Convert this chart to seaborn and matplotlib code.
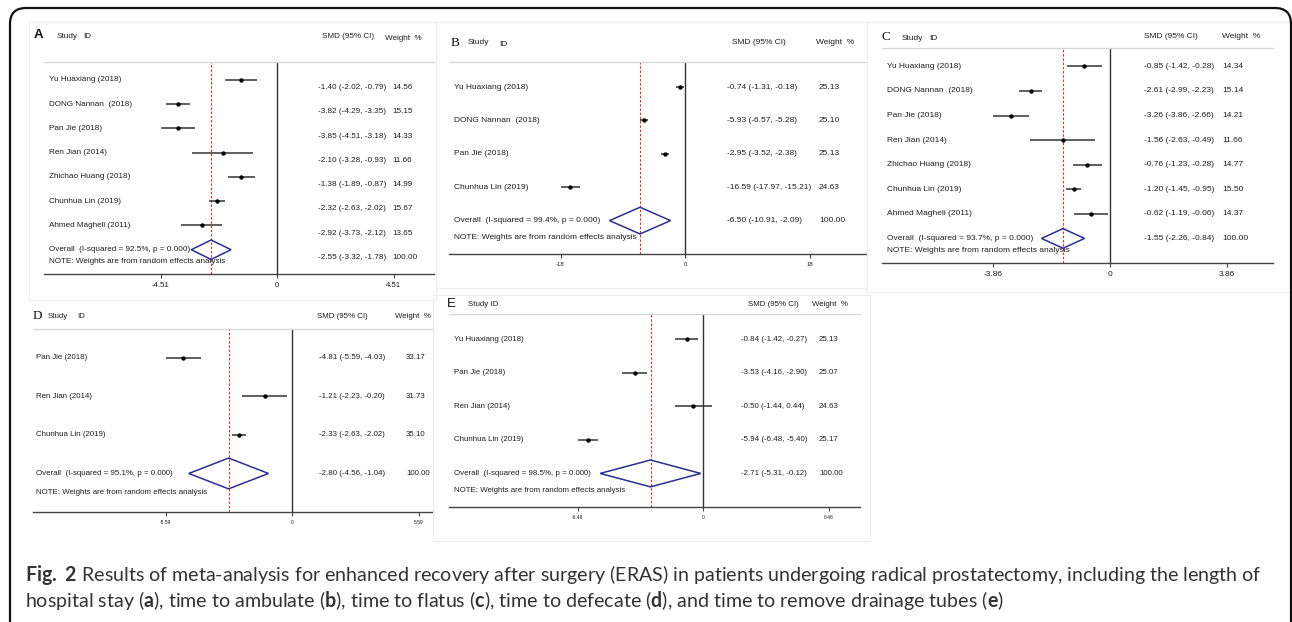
import matplotlib
matplotlib.use("Agg")
import matplotlib.pyplot as plt
from matplotlib.patches import Polygon, FancyBboxPatch, Rectangle
from matplotlib.transforms import IdentityTransform
import numpy as np
import seaborn as sns

# ---------------- data ----------------
studies_A = ["Yu Huaxiang (2018)", "DONG Nannan  (2018)", "Pan Jie (2018)", "Ren Jian (2014)",
             "Zhichao Huang (2018)", "Chunhua Lin (2019)", "Ahmed Magheli (2011)"]
smd_A = [-1.40, -3.82, -3.85, -2.10, -1.38, -2.32, -2.92]
lo_A = [-2.02, -4.29, -4.51, -3.28, -1.89, -2.63, -3.73]
hi_A = [-0.79, -3.35, -3.18, -0.93, -0.87, -2.02, -2.12]
wt_A = [14.56, 15.15, 14.33, 11.66, 14.99, 15.67, 13.65]
overall_A = [-2.55, -3.32, -1.78]
i2_A = "92.5%"
ticks_A = [-4.51, 0, 4.51]
ticklabels_A = ["-4.51", "0", "4.51"]

studies_B = ["Yu Huaxiang (2018)", "DONG Nannan  (2018)", "Pan Jie (2018)", "Chunhua Lin (2019)"]
smd_B = [-0.74, -5.93, -2.95, -16.59]
lo_B = [-1.31, -6.57, -3.52, -17.97]
hi_B = [-0.18, -5.28, -2.38, -15.21]
wt_B = [25.13, 25.10, 25.13, 24.63]
overall_B = [-6.50, -10.91, -2.09]
i2_B = "99.4%"
ticks_B = [-18, 0, 18]
ticklabels_B = ["-18", "0", "18"]

studies_C = ["Yu Huaxiang (2018)", "DONG Nannan  (2018)", "Pan Jie (2018)", "Ren Jian (2014)",
             "Zhichao Huang (2018)", "Chunhua Lin (2019)", "Ahmed Magheli (2011)"]
smd_C = [-0.85, -2.61, -3.26, -1.56, -0.76, -1.20, -0.62]
lo_C = [-1.42, -2.99, -3.86, -2.63, -1.23, -1.45, -1.19]
hi_C = [-0.28, -2.23, -2.66, -0.49, -0.28, -0.95, -0.06]
wt_C = [14.34, 15.14, 14.21, 11.66, 14.77, 15.50, 14.37]
overall_C = [-1.55, -2.26, -0.84]
i2_C = "93.7%"
ticks_C = [-3.86, 0, 3.86]
ticklabels_C = ["-3.86", "0", "3.86"]

studies_D = ["Pan Jie (2018)", "Ren Jian (2014)", "Chunhua Lin (2019)"]
smd_D = [-4.81, -1.21, -2.33]
lo_D = [-5.59, -2.23, -2.63]
hi_D = [-4.03, -0.20, -2.02]
wt_D = [33.17, 31.73, 35.10]
overall_D = [-2.80, -4.56, -1.04]
i2_D = "95.1%"
ticks_D = [-5.59, 0, 5.59]
ticklabels_D = ["-5.59", "0", "5.59"]

studies_E = ["Yu Huaxiang (2018)", "Pan Jie (2018)", "Ren Jian (2014)", "Chunhua Lin (2019)"]
smd_E = [-0.84, -3.53, -0.50, -5.94]
lo_E = [-1.42, -4.16, -1.44, -6.48]
hi_E = [-0.27, -2.90, 0.44, -5.40]
wt_E = [25.13, 25.07, 24.63, 25.17]
overall_E = [-2.71, -5.31, -0.12]
i2_E = "98.5%"
ticks_E = [-6.48, 0, 6.48]
ticklabels_E = ["-6.48", "0", "6.48"]

caption = (r"$\mathbf{Fig.}$ $\mathbf{2}$ Results of meta-analysis for enhanced recovery after surgery (ERAS) in patients "
           r"undergoing radical prostatectomy, including the length of")
caption2 = (r"hospital stay ($\mathbf{a}$), time to ambulate ($\mathbf{b}$), time to flatus ($\mathbf{c}$), "
            r"time to defecate ($\mathbf{d}$), and time to remove drainage tubes ($\mathbf{e}$)")

# ---------------- style ----------------
sns.set_theme(style="white")
plt.rcParams["font.family"] = ["Liberation Sans", "DejaVu Sans"]
plt.rcParams["mathtext.fontset"] = "custom"
plt.rcParams["mathtext.rm"] = "Lato"
plt.rcParams["mathtext.bf"] = "Lato:bold"

W, H = 1292, 622
fig = plt.figure(figsize=(W / 100, H / 100), dpi=100)
fig.patch.set_facecolor("white")

TXT = "#1e1e1e"
NAVY = "#2b2f8f"
RED = "#cc3333"


def fx(px):
    return px / W


def fy(py):
    return 1 - py / H


# faint sub-figure boxes
for (x0, y0, x1, y1) in [(29, 22, 436, 300), (436, 22, 867, 288), (867, 22, 1290, 292), (433, 295, 870, 541)]:
    fig.patches.append(Rectangle((fx(x0), fy(y1)), fx(x1 - x0), (y1 - y0) / H, transform=fig.transFigure,
                                 fill=False, edgecolor="#ededed", lw=0.8, zorder=0))

# outer rounded frame
fig.patches.append(FancyBboxPatch((10, -40), 1281, H - 8 + 40, boxstyle="round,pad=0,rounding_size=16",
                                  transform=IdentityTransform(), fill=False, edgecolor="#111111", lw=1.6,
                                  zorder=10))

panels = [
    dict(studies=studies_A, smd=smd_A, lo=lo_A, hi=hi_A, wt=wt_A, ov=overall_A, i2=i2_A,
         ticks=ticks_A, tl=ticklabels_A,
         left=44, right=434, top=61.5, bottom=274, zero=277, unit=116.5 / 4.51,
         lab_x=49, val_x=318, w_x=392, val_dy=0.32, fs=5.9, tfs=5.6,
         letter="A", letter_font="Liberation Sans", letter_w="bold", letter_pos=(34, 35),
         hdr=[("Study", 57, 36), ("ID", 83, 36), ("SMD (95% CI)", 322, 37), ("Weight  %", 385, 38)]),
    dict(studies=studies_B, smd=smd_B, lo=lo_B, hi=hi_B, wt=wt_B, ov=overall_B, i2=i2_B,
         ticks=ticks_B, tl=ticklabels_B,
         left=449, right=866, top=62, bottom=254, zero=685, unit=124.5 / 18,
         lab_x=454, val_x=727, w_x=819, val_dy=0.0, fs=6.0, tfs=4.3,
         letter="B", letter_font="Liberation Serif", letter_w="normal", letter_pos=(451, 43),
         hdr=[("Study", 468, 43), ("ID", 499, 44), ("SMD (95% CI)", 732, 43), ("Weight  %", 816, 43)]),
    dict(studies=studies_C, smd=smd_C, lo=lo_C, hi=hi_C, wt=wt_C, ov=overall_C, i2=i2_C,
         ticks=ticks_C, tl=ticklabels_C,
         left=882, right=1273, top=48, bottom=263, zero=1110, unit=117 / 3.86,
         lab_x=887, val_x=1144, w_x=1222, val_dy=0.0, fs=6.0, tfs=6.0,
         letter="C", letter_font="Liberation Serif", letter_w="normal", letter_pos=(881, 37),
         hdr=[("Study", 902, 38), ("ID", 929, 38), ("SMD (95% CI)", 1144, 37), ("Weight  %", 1222, 37)]),
    dict(studies=studies_D, smd=smd_D, lo=lo_D, hi=hi_D, wt=wt_D, ov=overall_D, i2=i2_D,
         ticks=ticks_D, tl=ticklabels_D,
         left=33, right=433, top=329, bottom=512, zero=292, unit=126.5 / 5.59,
         lab_x=36, val_x=319, w_x=406, val_dy=0.0, fs=5.7, tfs=3.6,
         letter="D", letter_font="Liberation Serif", letter_w="normal", letter_pos=(33, 316),
         hdr=[("Study", 48, 316), ("ID", 77, 316), ("SMD (95% CI)", 317, 316), ("Weight  %", 395, 316)]),
    dict(studies=studies_E, smd=smd_E, lo=lo_E, hi=hi_E, wt=wt_E, ov=overall_E, i2=i2_E,
         ticks=ticks_E, tl=ticklabels_E,
         left=449, right=860, top=314, bottom=507, zero=703, unit=125.5 / 6.48,
         lab_x=454, val_x=741, w_x=819, val_dy=0.0, fs=5.7, tfs=3.6,
         letter="E", letter_font="Liberation Sans", letter_w="normal", letter_pos=(447, 304),
         hdr=[("Study ID", 468, 305), ("SMD (95% CI)", 748, 304), ("Weight  %", 812, 304)]),
]

for p in panels:
    ax = fig.add_axes([fx(p["left"]), fy(p["bottom"]), (p["right"] - p["left"]) / W,
                       (p["bottom"] - p["top"]) / H])
    ax.set_facecolor("none")
    n = len(p["studies"])
    rows = np.arange(n)
    x0 = (p["left"] - p["zero"]) / p["unit"]
    x1 = (p["right"] - p["zero"]) / p["unit"]
    ax.set_xlim(x0, x1)
    ax.set_ylim(n + 1, -0.75)

    for s in ["left", "right"]:
        ax.spines[s].set_visible(False)
    ax.spines["top"].set_color("#d6d6d6")
    ax.spines["top"].set_linewidth(0.9)
    ax.spines["bottom"].set_color("#444444")
    ax.spines["bottom"].set_linewidth(1.0)
    ax.set_yticks([])
    ax.set_xticks(p["ticks"])
    ax.set_xticklabels(p["tl"])
    ax.tick_params(axis="x", bottom=True, direction="out", length=3, width=0.8, color="#444444",
                   labelsize=p["tfs"], pad=3, labelcolor=TXT)
    ax.set_xlabel("")
    ax.set_ylabel("")

    # reference lines
    ax.axvline(0, color="#333333", lw=1.0, zorder=1)
    ax.axvline(p["ov"][0], color=RED, lw=0.8, ls=(0, (2.2, 1.6)), zorder=1)

    # study CIs and points
    ax.hlines(rows, p["lo"], p["hi"], color="#333333", lw=1.1, zorder=3)
    sns.scatterplot(x=p["smd"], y=rows, ax=ax, color="black", marker="o", s=10, linewidth=0,
                    zorder=4, legend=False)

    # overall diamond
    e, l, h = p["ov"]
    ax.add_patch(Polygon([(l, n), (e, n - 0.4), (h, n), (e, n + 0.4)], closed=True, fill=False,
                         edgecolor=NAVY, lw=1.1, zorder=4))

    # text columns
    lab_x = (p["lab_x"] - p["zero"]) / p["unit"]
    val_x = (p["val_x"] - p["zero"]) / p["unit"]
    w_x = (p["w_x"] - p["zero"]) / p["unit"]
    for i, name in enumerate(p["studies"]):
        ax.text(lab_x, i, name, fontsize=p["fs"], color=TXT, va="center", ha="left")
        ax.text(val_x, i + p["val_dy"], f"{p['smd'][i]:.2f} ({p['lo'][i]:.2f}, {p['hi'][i]:.2f})",
                fontsize=p["fs"], color=TXT, va="center", ha="left")
        ax.text(w_x, i + p["val_dy"], f"{p['wt'][i]:.2f}", fontsize=p["fs"], color=TXT, va="center",
                ha="left")
    ax.text(lab_x, n, f"Overall  (I-squared = {p['i2']}, p = 0.000)", fontsize=p["fs"], color=TXT,
            va="center", ha="left")
    ax.text(val_x, n + p["val_dy"], f"{e:.2f} ({l:.2f}, {h:.2f})", fontsize=p["fs"], color=TXT,
            va="center", ha="left")
    ax.text(w_x, n + p["val_dy"], "100.00", fontsize=p["fs"], color=TXT, va="center", ha="left")
    ax.text(lab_x, n + 0.5, "NOTE: Weights are from random effects analysis", fontsize=p["fs"],
            color=TXT, va="center", ha="left")

    # header
    lx, ly = p["letter_pos"]
    fig.text(fx(lx), fy(ly), p["letter"], fontsize=9.5, family=p["letter_font"],
             weight=p["letter_w"], color="#111111", va="center", ha="left")
    for t, hx, hy in p["hdr"]:
        fig.text(fx(hx), fy(hy), t, fontsize=p["fs"], color=TXT, va="center", ha="left")

# caption
fig.text(fx(25), fy(575), caption, fontsize=14.1, family=["Lato", "DejaVu Sans"],
         color="#333333", va="center", ha="left")
fig.text(fx(25), fy(601), caption2, fontsize=14.1, family=["Lato", "DejaVu Sans"],
         color="#333333", va="center", ha="left")

fig.savefig("out.png", dpi=100, facecolor="white")
